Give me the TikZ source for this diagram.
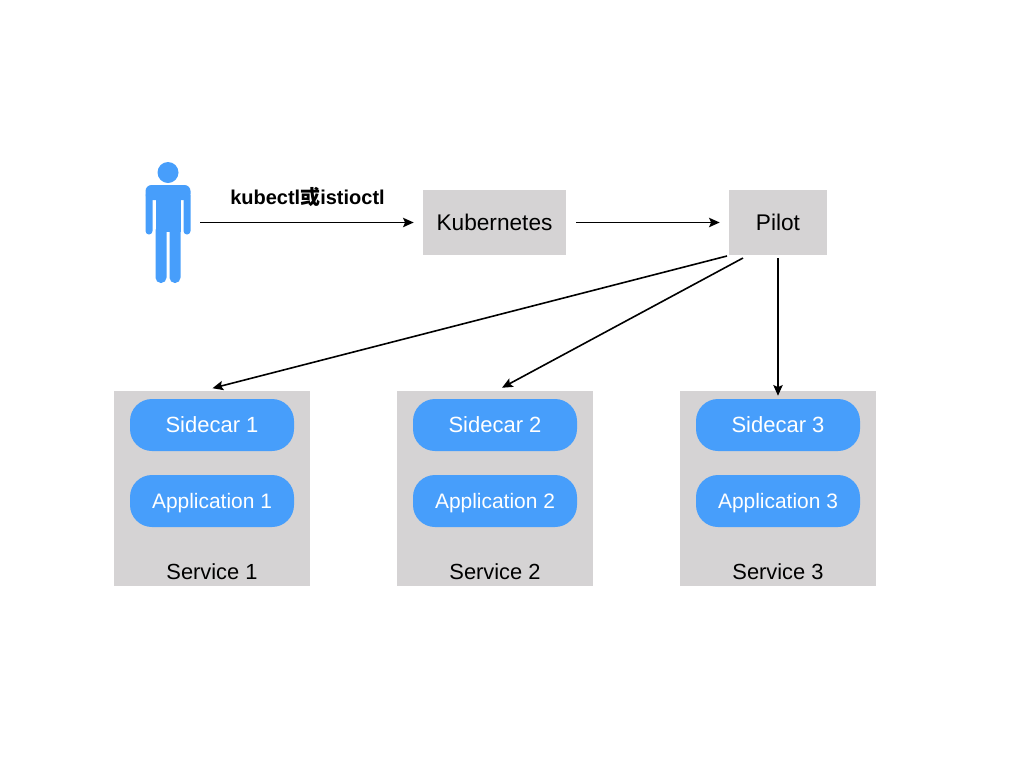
\documentclass[tikz,border=0pt]{standalone}
\usepackage{fontspec}
\setmainfont{Liberation Sans}
\newfontfamily\cjk{Noto Sans CJK SC}
\usetikzlibrary{arrows.meta, positioning, calc}
\definecolor{sideblue}{HTML}{479EFB}
\definecolor{boxgray}{HTML}{D5D3D4}
\tikzset{
    x=0.75pt, y=-0.75pt,
    graybox/.style={
        rectangle, fill=boxgray, inner sep=0pt,
        minimum height=48.75pt, text height=12pt, text depth=0pt,
        font=\fontsize{17}{20}\selectfont
    },
    service/.style={
        rectangle, fill=boxgray, inner sep=0pt,
        minimum width=147pt, minimum height=146.25pt
    },
    pill/.style={
        rectangle, fill=sideblue, rounded corners=16.5pt, inner sep=0pt,
        minimum width=123pt, minimum height=39pt,
        text height=11.5pt, text depth=0pt, text=white
    },
    servicename/.style={
        font=\fontsize{16.4}{20}\selectfont, inner sep=0pt,
        text height=11.5pt, text depth=0pt
    },
    wire/.style={draw=black, line width=1.2pt, -{Stealth[length=8pt,width=7pt,inset=1.5pt]}},
    limb/.style={fill=sideblue, rounded corners=2.6pt},
    leg/.style={fill=sideblue, rounded corners=4pt},
    shoulder/.style={fill=sideblue, rounded corners=4.5pt}
}
\begin{document}
\begin{tikzpicture}
\useasboundingbox (0,0) rectangle (1024,768);

% User figure
\fill[sideblue] (168,172.5) circle (10.5);
\fill[shoulder] (145.5,185) rectangle (190.5,200);
\fill[limb] (145.5,192) rectangle (152.5,234.5);
\fill[limb] (183.5,192) rectangle (190.5,234.5);
\fill[sideblue] (152,195) rectangle (184,200);
\fill[sideblue] (155.5,195) rectangle (180.5,232);
\fill[leg] (155.5,225) rectangle (166.5,283);
\fill[leg] (169.5,225) rectangle (180.5,283);
\coordinate (user) at (200,222.5);

% Top row
\node[graybox, minimum width=107.25pt] (kube) at (494.5,222.5) {Kubernetes};
\node[graybox, minimum width=73.5pt] (pilot) at (778,222.5) {Pilot};

% Services
\foreach \i/\xpos in {1/212, 2/495, 3/778} {
    \node[service] (service\i) at (\xpos,488.5) {};
    \node[pill, font=\fontsize{16.5}{20}\selectfont] (sidecar\i) at (\xpos,425) {Sidecar \i};
    \node[pill, font=\fontsize{15.7}{20}\selectfont] (app\i) at (\xpos,501) {Application \i};
    \node[servicename] (name\i) at (\xpos,571.5) {Service \i};
}

% Arrows
\draw[wire, shorten >=6.75pt] (user) -- (kube.west);
\node[font=\fontsize{15}{18}\selectfont\bfseries, inner sep=0pt] (cmd) at (307.5,197) {kubectl{\cjk 或}istioctl};
\draw[wire, shorten <=7.5pt, shorten >=6.75pt] (kube.east) -- (pilot.west);

\coordinate (out1) at (727,256);
\coordinate (out2) at (743,258);
\coordinate (out3) at (778,258);
\draw[wire] (out1) -- ($(service1.north)+(0.5,-2.5)$);
\draw[wire] (out2) -- ($(service2.north)+(7,-3)$);
\draw[wire] (out3) -- ($(service3.north)+(0,5)$);

\end{tikzpicture}
\end{document}
